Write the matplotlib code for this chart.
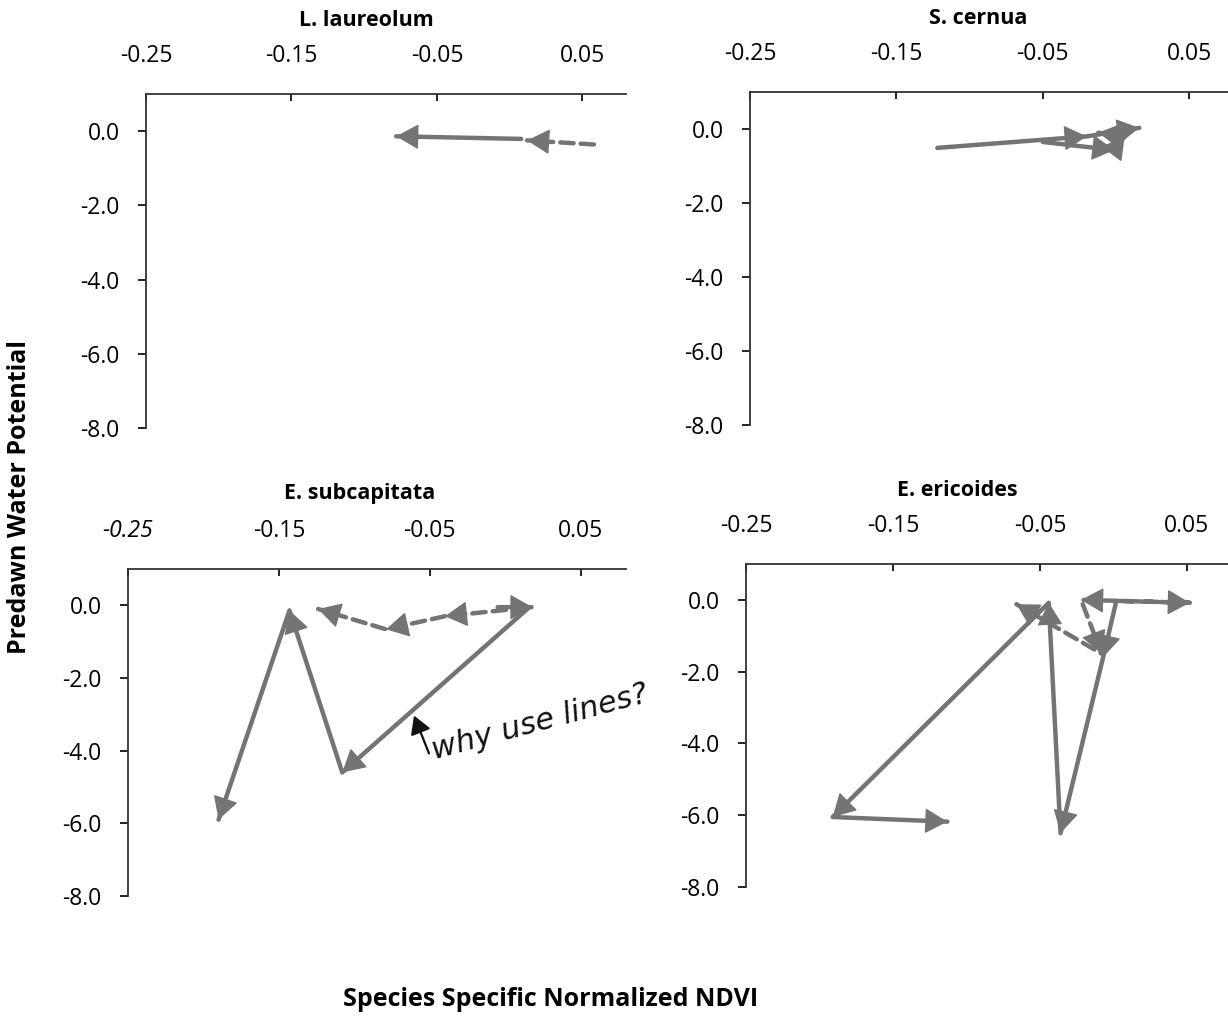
import matplotlib
matplotlib.use("Agg")
import matplotlib.pyplot as plt

W, H = 1228, 1017

# axis scales shared by all four panels
x_ticks = [-0.25, -0.15, -0.05, 0.05]
x_tick_labels = ["-0.25", "-0.15", "-0.05", "0.05"]
y_ticks = [0.0, -2.0, -4.0, -6.0, -8.0]
y_tick_labels = ["0.0", "-2.0", "-4.0", "-6.0", "-8.0"]

titles = ["L. laureolum", "S. cernua", "E. subcapitata", "E. ericoides"]

# trajectories: (NDVI, predawn water potential)
laur_solid_x = [0.008, -0.078]
laur_solid_y = [-0.21, -0.14]
laur_dash_x = [0.058, 0.012]
laur_dash_y = [-0.36, -0.25]

cern_solid_x = [-0.122, -0.02, 0.016]
cern_solid_y = [-0.51, -0.20, 0.03]
cern_loop_x = [-0.05, -0.001, 0.006, -0.012]
cern_loop_y = [-0.35, -0.57, -0.20, -0.10]

subc_solid_x = [0.016, -0.108, -0.143, -0.190]
subc_solid_y = [-0.05, -4.6, -0.14, -5.9]
subc_dash_x = [-0.005, 0.018, -0.040, -0.079, -0.124]
subc_dash_y = [-0.05, -0.05, -0.30, -0.66, -0.10]

eric_solid_x = [0.002, -0.007, -0.036, -0.044, -0.191, -0.113]
eric_solid_y = [-0.03, -1.6, -6.5, -0.08, -6.05, -6.18]
eric_dash_x = [0.004, 0.052, -0.022, -0.008, -0.066]
eric_dash_y = [-0.03, -0.08, 0.0, -1.5, -0.12]

panels = [
    [(laur_solid_x, laur_solid_y, "-"), (laur_dash_x, laur_dash_y, "--")],
    [(cern_solid_x, cern_solid_y, "-"), (cern_loop_x, cern_loop_y, "-")],
    [(subc_solid_x, subc_solid_y, "-"), (subc_dash_x, subc_dash_y, "--")],
    [(eric_solid_x, eric_solid_y, "-"), (eric_dash_x, eric_dash_y, "--")],
]

# pixel boxes (left, right, top, bottom) of each plot area
boxes = [(146, 626, 94, 428), (750, 1233, 92, 425),
         (128, 626, 569, 896), (746, 1231, 564, 887)]
title_pos = [(366, 20), (978, 18), (360, 493), (957, 490)]

plt.rcParams["font.family"] = ["Open Sans", "DejaVu Sans"]
GRAY = "#747474"

fig = plt.figure(figsize=(W / 100, H / 100), dpi=100)


def draw_series(ax, xs, ys, ls):
    ax.plot(xs, ys, color=GRAY, lw=3.2, ls=ls, dashes=(3, 1.6) if ls == "--" else (None, None),
            solid_capstyle="round", dash_capstyle="round", zorder=2)
    # Excel puts an arrow head at the end of every segment
    for i in range(1, len(xs)):
        x0, y0, x1, y1 = xs[i - 1], ys[i - 1], xs[i], ys[i]
        xa, ya = x0 + 0.9 * (x1 - x0), y0 + 0.9 * (y1 - y0)
        ax.annotate("", xy=(x1, y1), xytext=(xa, ya),
                    arrowprops=dict(arrowstyle="-|>,head_length=0.8,head_width=0.45",
                                    color=GRAY, lw=1.0, mutation_scale=18,
                                    shrinkA=0, shrinkB=0), zorder=3)


for k, (box, series) in enumerate(zip(boxes, panels)):
    l, r, t, b = box
    ax = fig.add_axes([l / W, 1 - b / H, (r - l) / W, (b - t) / H])
    for xs, ys, ls in series:
        draw_series(ax, xs, ys, ls)
    ax.set_xlim(-0.25, 0.08)
    ax.set_ylim(-8, 1)
    ax.set_xticks(x_ticks)
    ax.set_xticklabels(x_tick_labels)
    ax.set_yticks(y_ticks)
    ax.set_yticklabels(y_tick_labels)
    ax.xaxis.set_ticks_position("top")
    ax.spines["right"].set_visible(False)
    ax.spines["bottom"].set_visible(False)
    for s in ("left", "top"):
        ax.spines[s].set_linewidth(1.3)
        ax.spines[s].set_color("#333333")
    ax.tick_params(axis="x", direction="in", length=5, width=1.2, pad=19, labelsize=16.5)
    ax.tick_params(axis="y", direction="out", length=6, width=1.2, pad=13, labelsize=16.5)
    if k == 2:
        ax.get_xticklabels()[0].set_fontstyle("italic")
    fig.text(title_pos[k][0] / W, 1 - title_pos[k][1] / H, titles[k],
             ha="center", va="center", fontsize=15.5, fontweight="bold")

fig.text(20 / W, 1 - 497 / H, "Predawn Water Potential", rotation=90,
         ha="center", va="center", fontsize=18, fontweight="bold")
fig.text(551 / W, 1 - 1000 / H, "Species Specific Normalized NDVI",
         ha="center", va="center", fontsize=18, fontweight="bold")

# handwritten note on the scan
fig.text(540 / W, 1 - 722 / H, "why use lines?", rotation=15, ha="center", va="center",
         fontsize=22, fontstyle="italic", family=["DejaVu Sans"], color="#111111")
fig.add_artist(matplotlib.patches.FancyArrowPatch(
    (430 / W, 1 - 756 / H), (413 / W, 1 - 713 / H), transform=fig.transFigure,
    arrowstyle="-|>,head_length=0.6,head_width=0.35", mutation_scale=18,
    color="#111111", lw=1.6))

fig.savefig("out.png", dpi=100)
